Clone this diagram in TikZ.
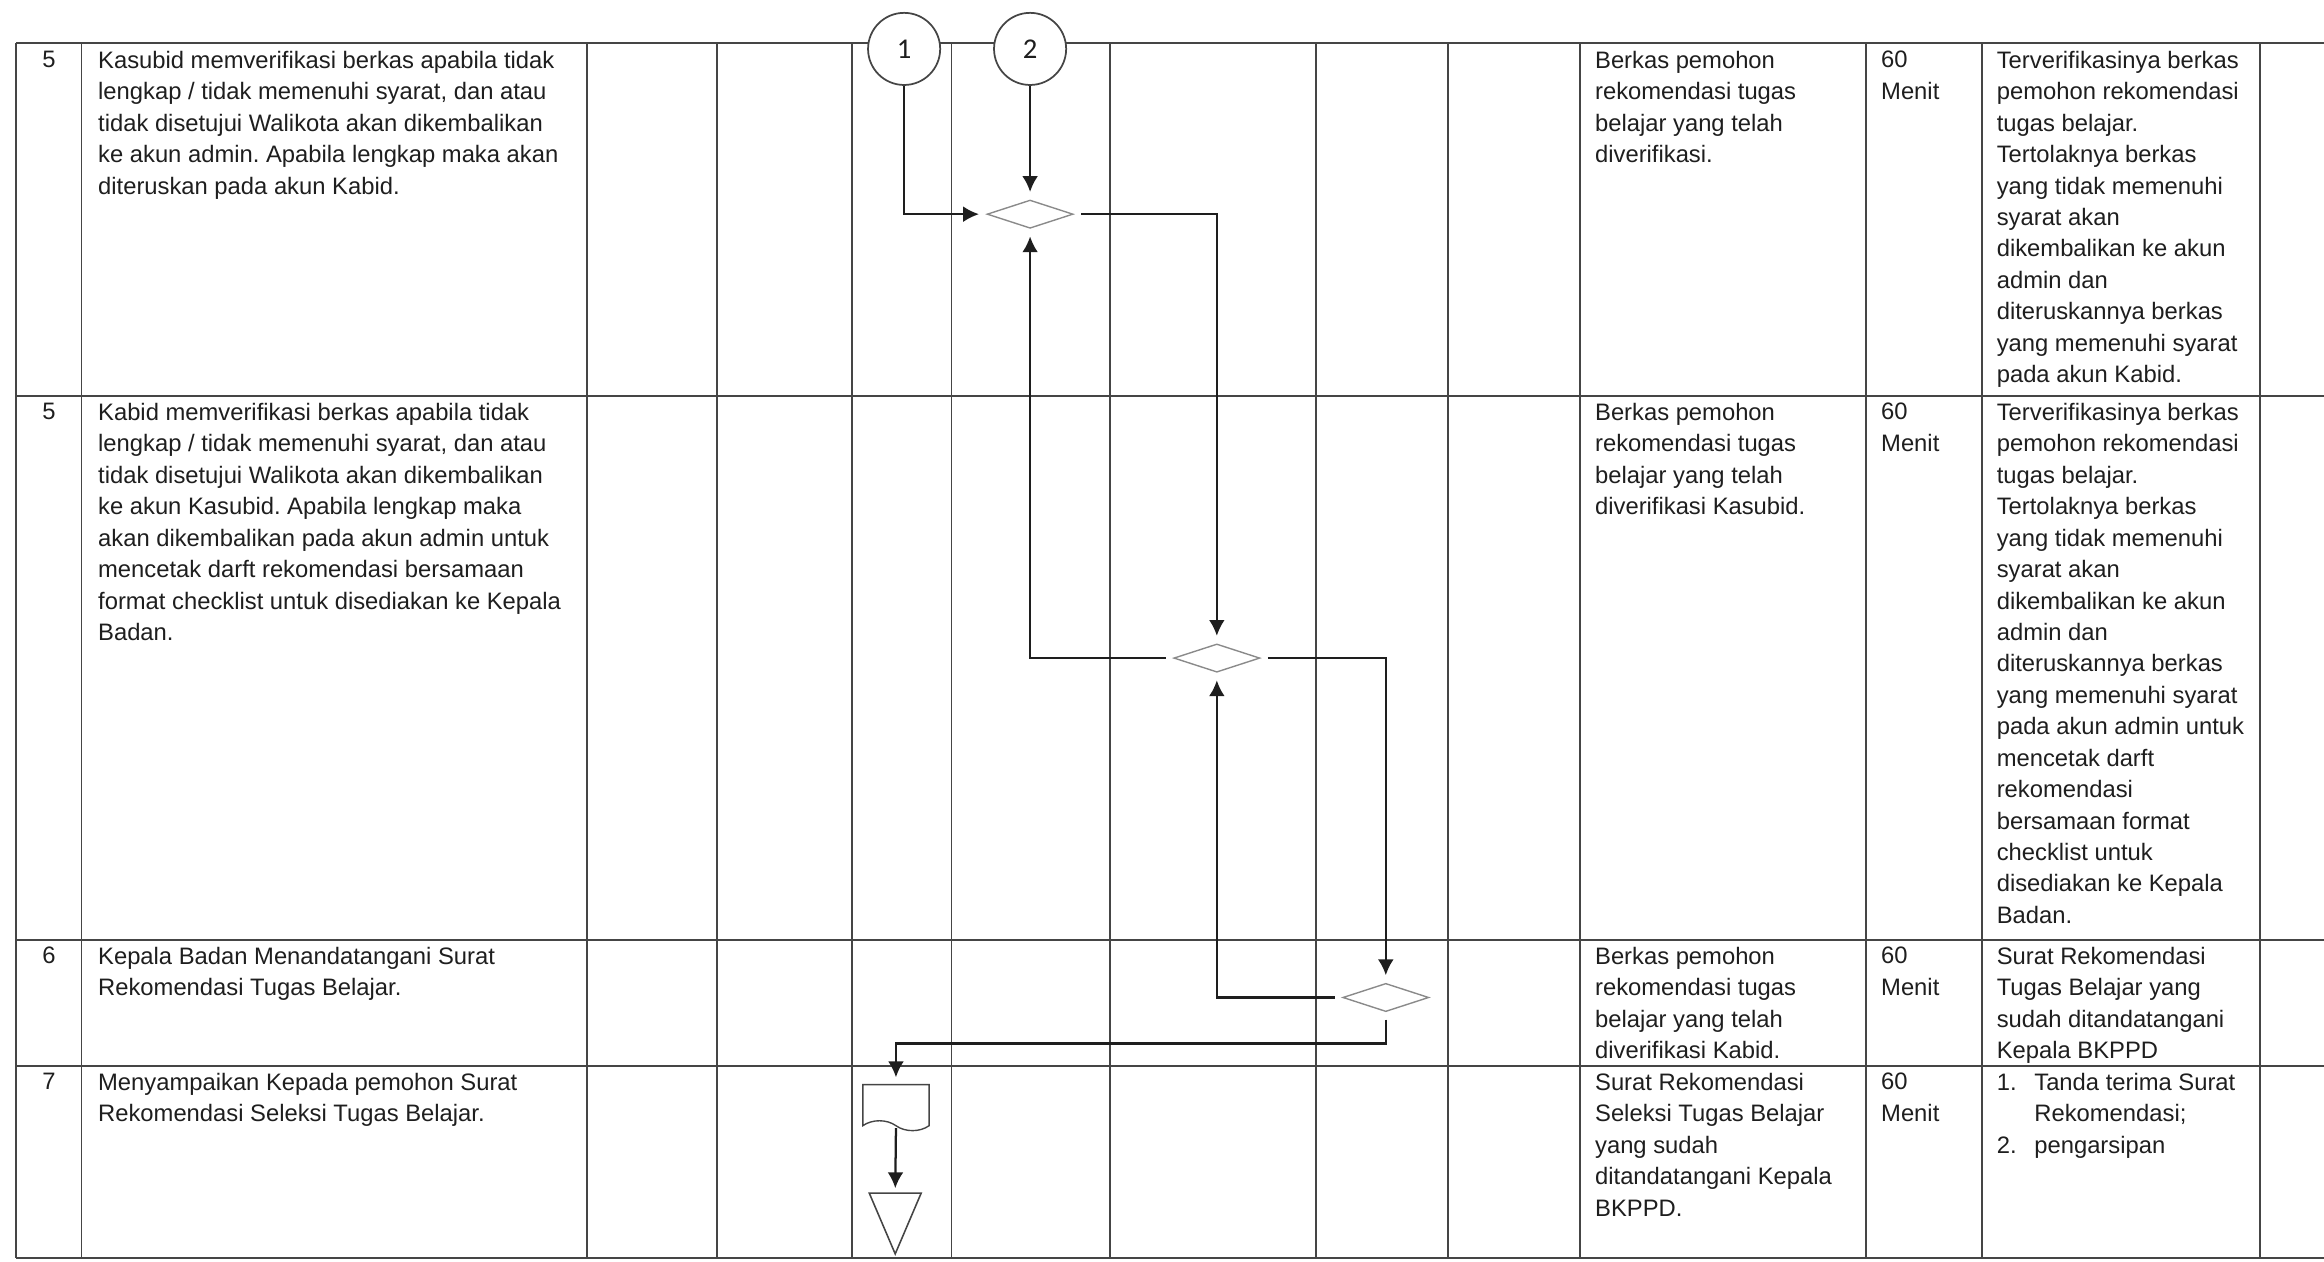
\documentclass[tikz,border=0pt]{standalone}
\usepackage{fontspec}
\setmainfont{Liberation Sans}
\newfontfamily\calfont{Carlito}
\usetikzlibrary{arrows.meta,positioning,calc,shapes.geometric,shapes.symbols}
\frenchspacing
\definecolor{Ink}{HTML}{1E1E1E}
\definecolor{Rule}{HTML}{454545}
\definecolor{Dia}{HTML}{8A8A8A}
\tikzset{
  >={Latex[length=3.2mm,width=3.2mm]},
  grid/.style={draw=Rule,line width=1pt},
  cell/.style={anchor=north west,align=left,inner sep=0pt,text=Ink,font=\fontsize{13.7}{18.1}\selectfont},
  num/.style={cell,anchor=north},
  conn/.style={circle,draw=Rule,line width=1pt,fill=white,minimum size=14.6mm,inner sep=0pt,text=Ink,font=\calfont\fontsize{16.5}{16.5}\selectfont},
  gate/.style={diamond,aspect=2.77,draw=Dia,line width=.8pt,inner xsep=0pt,inner ysep=3.3mm,outer sep=1.2mm},
  docsym/.style={tape,tape bend top=none,tape bend bottom=out and in,tape bend height=2mm,draw=Rule,line width=.8pt,minimum width=13.4mm,minimum height=9.3mm,inner sep=0pt,outer sep=1.5mm},
  sinkbox/.style={draw=none,minimum width=10.5mm,minimum height=12.3mm,inner sep=0pt,outer sep=0pt},
  sink/.style={draw=Rule,line width=.9pt},
  flow/.style={->,draw=Ink,line width=1.3pt}
}

\begin{document}
\begin{tikzpicture}[x=.3mm,y=-.3mm]
  \useasboundingbox (0,0) rectangle (1568,851);
  % table rules
  \foreach \y in {29,267,634,719,849} \draw[grid] (11,\y) -- (1568,\y);
  \foreach \x in {11,55,396,484,575,642,749,888,977,1066,1259,1337,1525} \draw[grid] (\x,29) -- (\x,849);

  % row numbers and activities
  \node[num] (no1) at (33,34.3) {5};
  \node[num] (no2) at (33,271.8) {5};
  \node[num] (no3) at (33,638.8) {6};
  \node[num] (no4) at (33,723.8) {7};
  \node[cell] (act1) at (66,34.3) {Kasubid memverifikasi berkas apabila tidak\\lengkap / tidak memenuhi syarat, dan atau\\tidak disetujui Walikota akan dikembalikan\\ke akun admin. Apabila lengkap maka akan\\diteruskan pada akun Kabid.};
  \node[cell] (act2) at (66,271.8) {Kabid memverifikasi berkas apabila tidak\\lengkap / tidak memenuhi syarat, dan atau\\tidak disetujui Walikota akan dikembalikan\\ke akun Kasubid. Apabila lengkap maka\\akan dikembalikan pada akun admin untuk\\mencetak darft rekomendasi bersamaan\\format checklist untuk disediakan ke Kepala\\Badan.};
  \node[cell] (act3) at (66,638.8) {Kepala Badan Menandatangani Surat\\Rekomendasi Tugas Belajar.};
  \node[cell] (act4) at (66,723.8) {Menyampaikan Kepada pemohon Surat\\Rekomendasi Seleksi Tugas Belajar.};

  % inputs, time, outputs
  \node[cell] (inp1) at (1076,34.3) {Berkas pemohon\\rekomendasi tugas\\belajar yang telah\\diverifikasi.};
  \node[cell] (inp2) at (1076,271.8) {Berkas pemohon\\rekomendasi tugas\\belajar yang telah\\diverifikasi Kasubid.};
  \node[cell] (inp3) at (1076,638.8) {Berkas pemohon\\rekomendasi tugas\\belajar yang telah\\diverifikasi Kabid.};
  \node[cell] (inp4) at (1076,723.8) {Surat Rekomendasi\\Seleksi Tugas Belajar\\yang sudah\\ditandatangani Kepala\\BKPPD.};
  \node[cell] (dur1) at (1269,34.3) {60\\Menit};
  \node[cell] (dur2) at (1269,271.8) {60\\Menit};
  \node[cell] (dur3) at (1269,638.8) {60\\Menit};
  \node[cell] (dur4) at (1269,723.8) {60\\Menit};
  \node[cell] (out1) at (1347,34.3) {Terverifikasinya berkas\\pemohon rekomendasi\\tugas belajar.\\Tertolaknya berkas\\yang tidak memenuhi\\syarat akan\\dikembalikan ke akun\\admin dan\\diteruskannya berkas\\yang memenuhi syarat\\pada akun Kabid.};
  \node[cell] (out2) at (1347,271.8) {Terverifikasinya berkas\\pemohon rekomendasi\\tugas belajar.\\Tertolaknya berkas\\yang tidak memenuhi\\syarat akan\\dikembalikan ke akun\\admin dan\\diteruskannya berkas\\yang memenuhi syarat\\pada akun admin untuk\\mencetak darft\\rekomendasi\\bersamaan format\\checklist untuk\\disediakan ke Kepala\\Badan.};
  \node[cell] (out3) at (1347,638.8) {Surat Rekomendasi\\Tugas Belajar yang\\sudah ditandatangani\\Kepala BKPPD};
  \node[cell] (out4) at (1347,723.8) {\makebox[7.6mm][l]{1.}Tanda terima Surat\\\hspace*{7.6mm}Rekomendasi;\\\makebox[7.6mm][l]{2.}pengarsipan};

  % flow
  \node[conn] (c1) at (610,33) {1};
  \node[conn] (c2) at (695,33) {2};
  \node[gate] (g1) at (695,144.5) {};
  \node[gate] (g2) at (821,444) {};
  \node[gate] (g3) at (935,673) {};
  \node[docsym] (surat) at (604.5,744) {};
  \node[sinkbox] (arsip) at (604,825.5) {};
  \draw[sink] (arsip.north west) -- (arsip.north east) -- (arsip.south) -- cycle;
  \draw[flow] (c1.south) |- (g1.west);
  \draw[flow] (c2.south) -- (g1.north);
  \draw[flow] (g1.east) -| (g2.north);
  \draw[flow] (g2.west) -| (g1.south);
  \draw[flow] (g2.east) -| (g3.north);
  \draw[flow] (g3.west) -| (g2.south);
  \draw[flow] (g3.south) -- ++(0,16) -| (surat.north);
  \draw[flow,shorten >=1mm] (surat.south) -- (arsip.north);
\end{tikzpicture}
\end{document}
